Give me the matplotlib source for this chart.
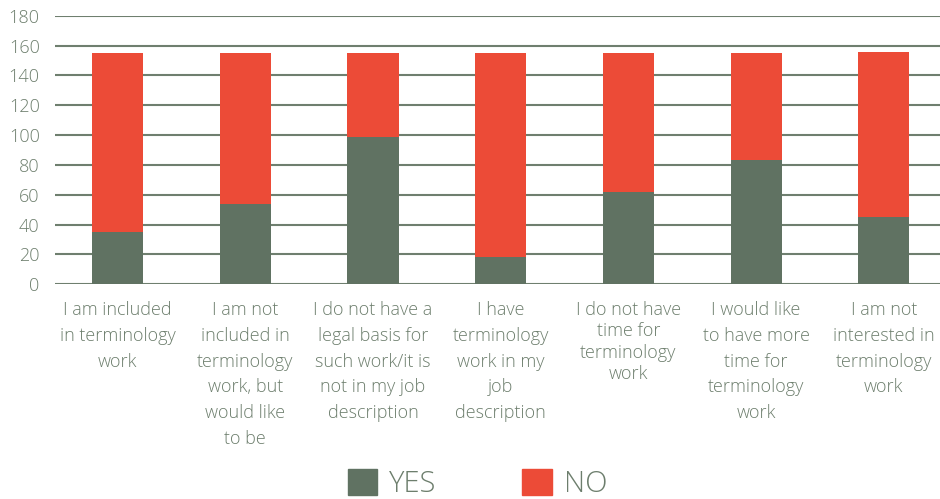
import matplotlib
matplotlib.use("Agg")
import matplotlib.pyplot as plt
from matplotlib.patches import Patch

plt.rcParams['font.family'] = ['Open Sans', 'DejaVu Sans']
plt.rcParams['font.weight'] = 'light'

categories = [
    "I am included\nin terminology\nwork",
    "I am not\nincluded in\nterminology\nwork, but\nwould like\nto be",
    "I do not have a\nlegal basis for\nsuch work/it is\nnot in my job\ndescription",
    "I have\nterminology\nwork in my\njob\ndescription",
    "I do not have\ntime for\nterminology\nwork",
    "I would like\nto have more\ntime for\nterminology\nwork",
    "I am not\ninterested in\nterminology\nwork",
]
yes_values = [35, 54, 99, 18, 62, 83, 45]
no_values = [120, 101, 56, 137, 93, 72, 111]
series_labels = ["YES", "NO"]
y_ticks = [0, 20, 40, 60, 80, 100, 120, 140, 160, 180]

yes_color = "#607262"
no_color = "#ec4b37"
text_color = "#6d7e6d"
grid_color = "#6f7f6f"

fig = plt.figure(figsize=(9.4, 4.99), dpi=100)
ax = fig.add_axes([55 / 940, 1 - 284.3 / 499, 1 - 55 / 940, (284.3 - 15.7) / 499])

x = list(range(len(categories)))
ax.bar(x, yes_values, width=0.4, color=yes_color, zorder=3, label=series_labels[0])
ax.bar(x, no_values, width=0.4, bottom=yes_values, color=no_color, zorder=3, label=series_labels[1])

ax.set_ylim(0, 180)
ax.set_xlim(-0.49, 6.44)
ax.set_yticks(y_ticks)
ax.yaxis.grid(True, color=grid_color, linewidth=1.5, zorder=0)
ax.set_axisbelow(True)
for s in ax.spines.values():
    s.set_visible(False)
ax.tick_params(axis='y', length=0, pad=11, labelsize=13, labelcolor=text_color)
ax.tick_params(axis='x', length=0, pad=12, labelsize=13, labelcolor=text_color)
ax.set_xticks(x)
ax.set_xticklabels(categories, linespacing=1.56)
for i, lab in enumerate(ax.get_xticklabels()):
    lab.set_verticalalignment('top')
    if i == 4:
        lab.set_linespacing(1.25)

handles = [Patch(color=yes_color), Patch(color=no_color)]
fig.legend(handles, series_labels, loc='lower center', bbox_to_anchor=(0.508, -0.03),
           ncol=2, frameon=False, fontsize=21, labelcolor=text_color,
           handlelength=1.0, handleheight=1.0, handletextpad=0.42,
           columnspacing=2.95, borderpad=0.0)

fig.savefig("out.png", dpi=100)
